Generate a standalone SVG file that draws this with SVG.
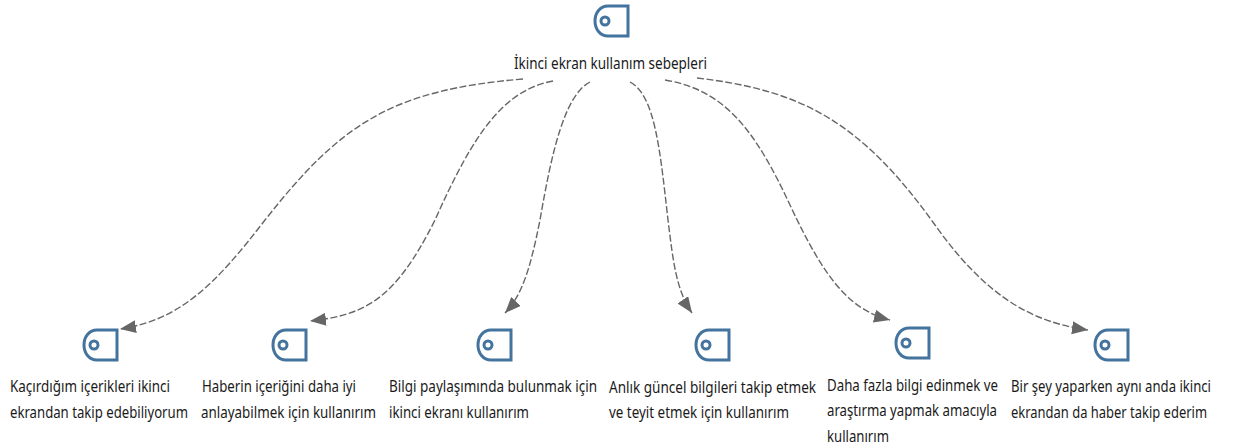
<svg xmlns="http://www.w3.org/2000/svg" width="1239" height="448" viewBox="0 0 1239 448">
<style>
text{font-family:"Noto Sans","Open Sans","Liberation Sans",sans-serif;font-size:17px;fill:#1a1a1a}
.ic{fill:none;stroke:#44749d;stroke-width:3}
.c{fill:none;stroke:#666;stroke-width:1.4;stroke-dasharray:7 2.5;marker-end:url(#a)}
</style>
<defs>
<marker id="a" markerUnits="userSpaceOnUse" markerWidth="18" markerHeight="14" refX="16" refY="6.5" orient="auto"><path d="M0 0L16 6.5L0 13Z" fill="#666"/></marker>
<g id="icon"><path class="ic" d="M14 1H34V31H14C6 31 1 24 1 16C1 8 6 1 14 1Z"/><circle class="ic" cx="11" cy="16" r="4"/></g>
</defs>
<g id="connectors">
<path class="c" d="M523 79C390 90 340 125 265 220C215 285 180 320 120 329"/>
<path class="c" d="M553 81C505 90 475 130 435 220C395 300 365 315 310 321"/>
<path class="c" d="M590 82C565 95 552 150 540 220C530 270 522 295 505 313"/>
<path class="c" d="M630 82C655 95 660 150 668 220C673 260 676 290 692 313"/>
<path class="c" d="M665 80C725 90 755 130 790 205C825 280 850 310 890 320"/>
<path class="c" d="M697 78C800 90 860 120 935 225C985 295 1030 322 1088 330"/>
</g>
<g id="root"><use href="#icon" x="594" y="5"/><text x="514" y="69" textLength="193" lengthAdjust="spacingAndGlyphs">İkinci ekran kullanım sebepleri</text></g>
<g id="n1"><use href="#icon" x="83" y="329"/><text x="10" y="392" textLength="160" lengthAdjust="spacingAndGlyphs">Kaçırdığım içerikleri ikinci</text><text x="10" y="418" textLength="178" lengthAdjust="spacingAndGlyphs">ekrandan takip edebiliyorum</text></g>
<g id="n2"><use href="#icon" x="272" y="329"/><text x="202" y="392" textLength="154" lengthAdjust="spacingAndGlyphs">Haberin içeriğini daha iyi</text><text x="201" y="418" textLength="175" lengthAdjust="spacingAndGlyphs">anlayabilmek için kullanırım</text></g>
<g id="n3"><use href="#icon" x="477" y="329"/><text x="389" y="392" textLength="208" lengthAdjust="spacingAndGlyphs">Bilgi paylaşımında bulunmak için</text><text x="389" y="418" textLength="140" lengthAdjust="spacingAndGlyphs">ikinci ekranı kullanırım</text></g>
<g id="n4"><use href="#icon" x="695" y="329"/><text x="609" y="393" textLength="207" lengthAdjust="spacingAndGlyphs">Anlık güncel bilgileri takip etmek</text><text x="609" y="418" textLength="180" lengthAdjust="spacingAndGlyphs">ve teyit etmek için kullanırım</text></g>
<g id="n5"><use href="#icon" x="895" y="327"/><text x="827" y="391" textLength="171" lengthAdjust="spacingAndGlyphs">Daha fazla bilgi edinmek ve</text><text x="827" y="416" textLength="170" lengthAdjust="spacingAndGlyphs">araştırma yapmak amacıyla</text><text x="827" y="442" textLength="62" lengthAdjust="spacingAndGlyphs">kullanırım</text></g>
<g id="n6"><use href="#icon" x="1094" y="329"/><text x="1011" y="392" textLength="200" lengthAdjust="spacingAndGlyphs">Bir şey yaparken aynı anda ikinci</text><text x="1011" y="418" textLength="196" lengthAdjust="spacingAndGlyphs">ekrandan da haber takip ederim</text></g>
</svg>
